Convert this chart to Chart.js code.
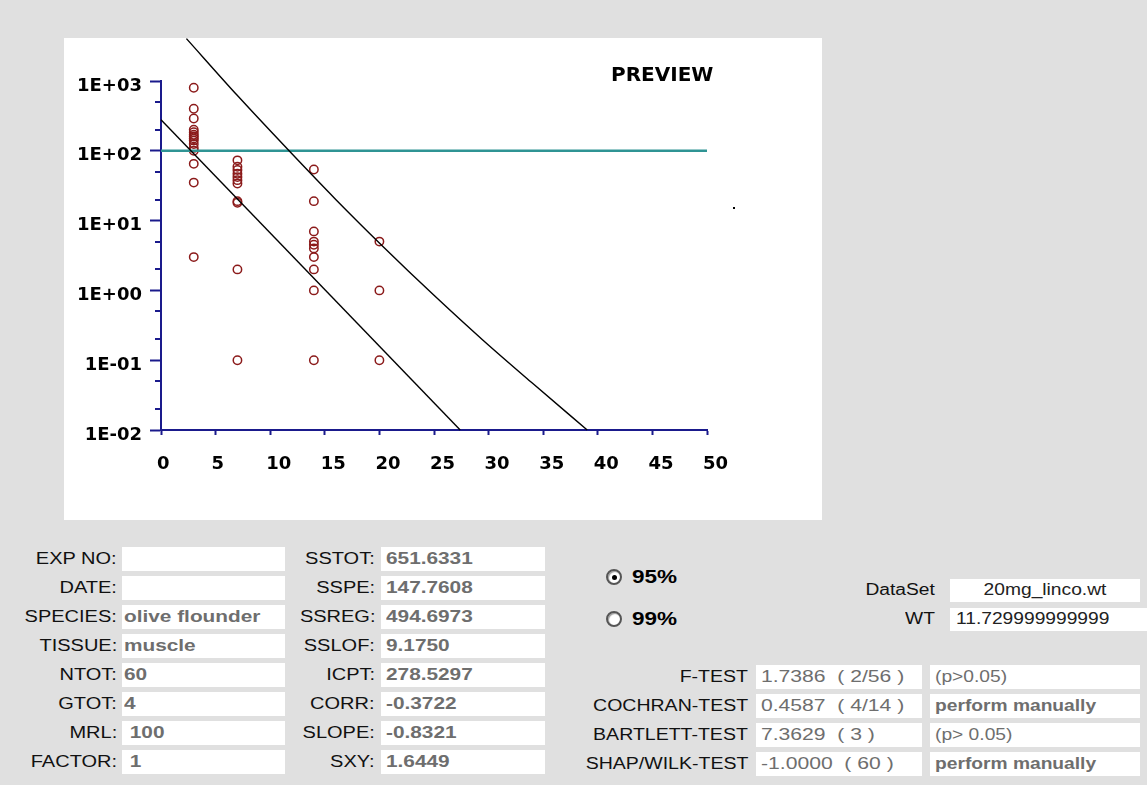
<!DOCTYPE html>
<html><head><meta charset="utf-8">
<script src="https://cdn.jsdelivr.net/npm/chart.js@4.4.1/dist/chart.umd.min.js"></script>
<style>
html,body{margin:0;padding:0;background:#e0e0e0;width:1147px;height:785px;overflow:hidden;font-family:"Liberation Sans",Arial,sans-serif;}
#panel{position:absolute;left:64px;top:38px;width:758px;height:482px;background:#fff;}
#c{position:absolute;left:0;top:0;}
#preview{position:absolute;left:611px;top:64px;font-family:"DejaVu Sans",sans-serif;font-weight:bold;font-size:20px;line-height:20px;color:#000;}
.t{position:absolute;white-space:pre;height:24px;line-height:24px;font-size:16px;color:#111;}
.box{position:absolute;background:#fff;overflow:hidden;}
.radio{position:absolute;width:12px;height:12px;border-radius:50%;border:2px solid #555;background:#fff;box-shadow:inset 1px 1px 1px #999;}
.dot{position:absolute;left:3.5px;top:3.5px;width:5px;height:5px;border-radius:50%;background:#000;}
#stray{position:absolute;left:733px;top:207px;width:2px;height:2px;background:#000;}
</style></head>
<body>
<div id="panel"><canvas id="c" width="758" height="482"></canvas></div>
<div id="preview">PREVIEW</div>
<div id="stray"></div>
<div id="info"></div>
<script>
// ---------- data ----------
const days = [3, 7, 14, 20];
const residuesDay3  = [800, 400, 290, 200, 185, 170, 160, 150, 140, 125, 110, 100, 65, 35, 3];
const residuesDay7  = [73, 59, 53, 47, 42, 38, 34, 19, 18, 2, 0.1];
const residuesDay14 = [54, 19, 7, 5, 4.5, 4, 3, 2, 1, 0.1];
const residuesDay20 = [5, 1, 0.1];
const regressionX = [0, 27.4];
const regressionY = [278.53, 0.01];
const toleranceX = [2.33, 7, 11.73, 16, 20.37, 25, 29.54, 34, 39.03];
const toleranceY = [4046, 618, 100, 20.1, 4.19, 0.85, 0.19, 0.047, 0.01];
const mrlX = [0, 50];
const mrlY = [100, 100];
const yTickValues = [0.01, 0.1, 1, 10, 100, 1000];
const yTickLabels = ['1E-02', '1E-01', '1E+00', '1E+01', '1E+02', '1E+03'];
const yMinorValues = [0.02, 0.05, 0.2, 0.5, 2, 5, 20, 50, 200, 500];
const xTickLabels = ['0','5','10','15','20','25','30','35','40','45','50'];

// info panel texts
const leftLabels = ['EXP NO:', 'DATE:', 'SPECIES:', 'TISSUE:', 'NTOT:', 'GTOT:', 'MRL:', 'FACTOR:'];
const leftValues = ['', '', 'olive flounder', 'muscle', '60', '4', ' 100', ' 1'];
const midLabels = ['SSTOT:', 'SSPE:', 'SSREG:', 'SSLOF:', 'ICPT:', 'CORR:', 'SLOPE:', 'SXY:'];
const midValues = ['651.6331', '147.7608', '494.6973', '9.1750', '278.5297', '-0.3722', '-0.8321', '1.6449'];
const testLabels = ['F-TEST', 'COCHRAN-TEST', 'BARTLETT-TEST', 'SHAP/WILK-TEST'];
const testValues = ['1.7386  ( 2/56 )', '0.4587  ( 4/14 )', '7.3629  ( 3 )', '-1.0000  ( 60 )'];
const testResults = ['(p>0.05)', 'perform manually', '(p> 0.05)', 'perform manually'];
const confLevels = ['95%', '99%'];
const dataSetName = '20mg_linco.wt';
const wtValue = '11.729999999999';

// ---------- chart ----------
const AXIS = '#1a1a8c';
const pts = (xs, ys) => xs.map((x, i) => ({x: x, y: ys[i]}));
const groupPts = (d, arr) => arr.map(v => ({x: d, y: v}));
const residuePoints = [].concat(
  groupPts(days[0], residuesDay3), groupPts(days[1], residuesDay7),
  groupPts(days[2], residuesDay14), groupPts(days[3], residuesDay20));

const minorTicks = {
  id: 'minorTicks',
  afterDraw(chart) {
    const ys = chart.scales.y, ctx = chart.ctx, x0 = chart.chartArea.left;
    ctx.save(); ctx.strokeStyle = AXIS; ctx.lineWidth = 2;
    yMinorValues.forEach(v => {
      const py = Math.round(ys.getPixelForValue(v));
      ctx.beginPath(); ctx.moveTo(x0 - 6, py); ctx.lineTo(x0, py); ctx.stroke();
    });
    ctx.restore();
  }
};

new Chart(document.getElementById('c'), {
  type: 'scatter',
  data: {
    datasets: [
      {data: pts(toleranceX, toleranceY), showLine: true, cubicInterpolationMode: 'monotone', borderColor: '#000', borderWidth: 1.4, pointRadius: 0, clip: false},
      {data: pts(regressionX, regressionY), showLine: true, borderColor: '#000', borderWidth: 1.4, pointRadius: 0, clip: false},
      {data: pts(mrlX, mrlY), showLine: true, borderColor: '#2f9494', borderWidth: 2.5, pointRadius: 0, clip: false},
      {data: residuePoints, showLine: false, pointRadius: 4.2, pointBorderWidth: 1.5, borderColor: '#8b1a1a', backgroundColor: 'rgba(0,0,0,0)', pointHoverRadius: 4}
    ]
  },
  options: {
    responsive: false, animation: false, devicePixelRatio: 1,
    layout: {padding: {top: 43, right: 115, left: 0, bottom: 0}},
    plugins: {legend: {display: false}, tooltip: {enabled: false}},
    scales: {
      x: {
        type: 'linear', min: 0, max: 50,
        afterFit: s => { s.height = 90; },
        grid: {drawOnChartArea: false, tickLength: 5, tickColor: AXIS, tickWidth: 2},
        border: {color: AXIS, width: 2},
        ticks: {stepSize: 5, align: 'start', labelOffset: -4, padding: 19, color: '#000',
          font: {family: 'DejaVu Sans', weight: 'bold', size: 18},
          callback: (v, i) => xTickLabels[i]}
      },
      y: {
        type: 'logarithmic', min: 0.01, max: 1000,
        afterFit: s => { s.width = 97; },
        afterBuildTicks: s => { s.ticks = yTickValues.map(v => ({value: v})); },
        grid: {drawOnChartArea: false, tickLength: 11, tickColor: AXIS, tickWidth: 2},
        border: {color: AXIS, width: 2},
        ticks: {padding: 8, labelOffset: 5, color: '#000',
          font: {family: 'DejaVu Sans', weight: 'bold', size: 18},
          callback: (v, i) => yTickLabels[i]}
      }
    }
  },
  plugins: [minorTicks]
});

// ---------- info panel ----------
const info = document.getElementById('info');
function text(s, x, c, o) {
  o = o || {};
  const d = document.createElement('div');
  d.className = 't';
  d.textContent = s;
  d.style.top = (c - 12) + 'px';
  const k = o.k || 1.25;
  if (o.right) { d.style.right = (1147 - x) + 'px'; d.style.transformOrigin = 'right center'; }
  else { d.style.left = x + 'px'; d.style.transformOrigin = 'left center'; }
  d.style.transform = 'scaleX(' + k + ')';
  if (o.bold) d.style.fontWeight = 'bold';
  if (o.color) d.style.color = o.color;
  if (o.size) d.style.fontSize = o.size + 'px';
  info.appendChild(d);
  return d;
}
function box(x, c, w, h) {
  const b = document.createElement('div');
  b.className = 'box';
  b.style.left = x + 'px'; b.style.top = (c - h / 2) + 'px';
  b.style.width = w + 'px'; b.style.height = h + 'px';
  info.appendChild(b);
}
const GRAY = '#6e6e6e';
leftLabels.forEach((s, i) => {
  const c = 559 + 29 * i;
  text(s, 117, c, {right: true});
  box(122, c, 163, 24);
  if (leftValues[i]) text(leftValues[i], 124, c, {bold: true, color: GRAY, k: 1.3});
});
midLabels.forEach((s, i) => {
  const c = 559 + 29 * i;
  text(s, 375, c, {right: true});
  box(381, c, 164, 24);
  text(midValues[i], 386, c, {bold: true, color: GRAY, k: 1.3});
});
testLabels.forEach((s, i) => {
  const c = 677 + 29 * i;
  text(s, 748, c, {right: true, k: 1.22});
  box(756, c, 166, 24);
  text(testValues[i], 761, c, {color: GRAY, k: 1.32});
  box(930, c, 210, 24);
  text(testResults[i], 935, c, {color: GRAY, bold: testResults[i].indexOf('perform') === 0, k: 1.2});
});
// radio buttons
confLevels.forEach((s, i) => {
  const c = 577 + 42 * i;
  const r = document.createElement('div');
  r.className = 'radio';
  r.style.left = (614 - 8) + 'px'; r.style.top = (c - 8) + 'px';
  if (i === 0) { const d = document.createElement('div'); d.className = 'dot'; r.appendChild(d); }
  info.appendChild(r);
  text(s, 632, c, {bold: true, size: 18, color: '#000', k: 1.25});
});
// DataSet / WT
text('DataSet', 935, 590, {right: true, k: 1.2});
box(950, 590, 190, 23);
const ds = text(dataSetName, 950, 590, {color: '#222', k: 1.2});
ds.style.width = (190 / 1.2) + 'px'; ds.style.textAlign = 'center';
text('WT', 935, 619, {right: true, k: 1.2});
box(950, 619, 200, 23);
text(wtValue, 956, 619, {color: '#222', k: 1.2});
</script>
</body></html>
